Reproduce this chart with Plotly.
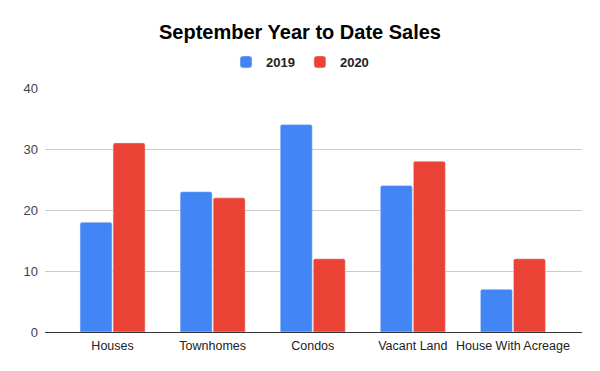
import plotly.graph_objects as go

categories = ["Houses", "Townhomes", "Condos", "Vacant Land", "House With Acreage"]
sales_2019 = [18, 23, 34, 24, 7]
sales_2020 = [31, 22, 12, 28, 12]
y_ticks = [0, 10, 20, 30, 40]

fig = go.Figure()
fig.add_trace(go.Bar(name="2019", x=categories, y=sales_2019, marker_color="#4285F4"))
fig.add_trace(go.Bar(name="2020", x=categories, y=sales_2020, marker_color="#EA4335"))

fig.update_layout(
    width=600, height=371,
    margin=dict(l=45, r=18, t=88, b=39, autoexpand=False),
    paper_bgcolor="white", plot_bgcolor="white",
    font=dict(family="Liberation Sans, Arial, sans-serif", color="#222222", size=12.5),
    title=dict(text="<b>September Year to Date Sales</b>", x=0.5, xref="container",
               xanchor="center", y=1 - 32 / 371, yref="container", yanchor="middle",
               font=dict(size=20, color="#000000")),
    barmode="group", bargap=0.34, bargroupgap=0.03, barcornerradius=2,
    showlegend=True,
    legend=dict(orientation="h", x=0.5, xref="container", xanchor="center",
                y=1 - 62 / 371, yref="container", yanchor="middle",
                font=dict(size=13, color="#222222", family="Liberation Sans, Arial, sans-serif", weight="bold"),
                itemwidth=30, traceorder="normal"),
    xaxis=dict(range=[-0.675, 4.69], showgrid=False, showline=False, ticks="",
               tickfont=dict(size=12.5, color="#222222"), ticklabelstandoff=4),
    yaxis=dict(range=[0, 40], tickvals=y_ticks, showgrid=True, gridcolor="#cccccc",
               gridwidth=1, zeroline=True, zerolinecolor="#333333", zerolinewidth=1,
               ticks="", tickfont=dict(size=13, color="#444444"), ticklabelstandoff=6),
)

fig.write_html("out.html", config={"displayModeBar": False},
               post_script="document.body.style.margin='0';")
